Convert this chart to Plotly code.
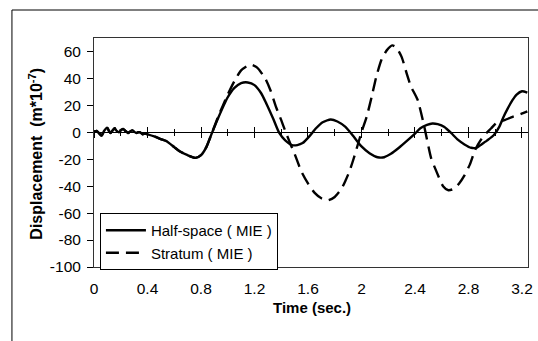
import plotly.graph_objects as go

# ---------------- data ----------------
time_half = [0.00, 0.02, 0.04, 0.057, 0.075, 0.098, 0.112, 0.125, 0.14, 0.155, 0.17, 0.187,
             0.20, 0.217, 0.235, 0.254, 0.27, 0.286, 0.30, 0.316, 0.33, 0.345, 0.364, 0.38, 0.40,
             0.45, 0.50, 0.54, 0.60, 0.64, 0.70, 0.76, 0.80, 0.84, 0.88, 0.93, 1.00, 1.05,
             1.10, 1.15, 1.20, 1.25, 1.29, 1.34, 1.385, 1.43, 1.48, 1.52, 1.56, 1.61, 1.66, 1.71,
             1.77, 1.82, 1.88, 1.94, 2.00, 2.06, 2.12, 2.17, 2.22, 2.28, 2.35, 2.40, 2.44, 2.49,
             2.53, 2.57, 2.62, 2.67, 2.72, 2.77, 2.82, 2.86, 2.89, 2.94, 2.99, 3.03, 3.06,
             3.09, 3.13, 3.16, 3.20, 3.24]
disp_half = [0.5, 1, -1, -2.5, 1, 3.5, 1, -0.5, 1.5, 3, 1, 0,
             1.5, 2.5, 1, -0.5, 0.5, 1.5, 0.5, -0.5, 0, 0, -1.5, -1, -1.5,
             -3, -5, -6.5, -11, -14, -17, -19, -17, -11, -1, 11, 26, 33,
             36.5, 37, 35, 29, 21, 10, -0.5, -6, -9.5, -9.5, -8, -3, 3, 7.5,
             9.5, 8, 4, -3, -10.5, -15.5, -18.5, -18.5, -16, -11.5, -5.5, -1, 3, 5.5,
             6.5, 6, 4, -0.5, -5.5, -9, -11.5, -11.5, -9.5, -6, -2, 4, 11,
             17, 24, 28, 30.5, 29.5]

time_stratum = [0.00, 0.02, 0.04, 0.057, 0.075, 0.098, 0.112, 0.125, 0.14, 0.155, 0.17, 0.187,
                0.20, 0.217, 0.235, 0.254, 0.27, 0.286, 0.30, 0.316, 0.33, 0.345, 0.364, 0.38, 0.40,
                0.45, 0.50, 0.54, 0.60, 0.64, 0.70, 0.76, 0.80, 0.84, 0.88, 0.93, 1.00, 1.05,
                1.10, 1.15, 1.18, 1.22, 1.28, 1.32, 1.36, 1.40, 1.43, 1.47, 1.50, 1.55, 1.60, 1.65,
                1.70, 1.75, 1.80, 1.85, 1.88, 1.91, 1.94, 1.97, 2.00, 2.04, 2.08, 2.11, 2.15, 2.19,
                2.23, 2.26, 2.30, 2.34, 2.37, 2.42, 2.47, 2.52, 2.56, 2.61, 2.65, 2.69, 2.73,
                2.77, 2.81, 2.85, 2.89, 2.93, 2.97, 3.01, 3.07, 3.13, 3.19, 3.24]
disp_stratum = [0.5, 1, -1, -2.5, 1, 3.5, 1, -0.5, 1.5, 3, 1, 0,
                1.5, 2.5, 1, -0.5, 0.5, 1.5, 0.5, -0.5, 0, 0, -1.5, -1, -1.5,
                -3, -5, -6.5, -11, -14, -17, -19, -17, -11, -1, 12, 28, 38,
                46, 49.5, 50, 48, 40, 31, 19, 9, 1, -9, -16, -29, -38, -45,
                -49, -50.5, -48, -42, -36, -29, -20, -10, 0, 12, 28, 41, 54, 61,
                64.5, 63, 56, 43, 34, 24, 4, -19, -29, -40, -43, -42, -38,
                -32, -24, -13, -6, -1, 3, 7, 9, 11.5, 13.5, 15.5]

x_tick_vals = [0, 0.4, 0.8, 1.2, 1.6, 2.0, 2.4, 2.8, 3.2]
x_tick_text = ["0", "0.4", "0.8", "1.2", "1.6", "2", "2.4", "2.8", "3.2"]
y_tick_vals = [-100, -80, -60, -40, -20, 0, 20, 40, 60]
y_tick_text = ["-100", "-80", "-60", "-40", "-20", "0", "20", "40", "60"]
series_names = ["Half-space ( MIE )", "Stratum ( MIE )"]

# ---------------- figure ----------------
FONT = "Liberation Sans, Arial, sans-serif"
W, H = 538, 341
ML, MR, MT, MB = 94, 5, 38, 74
PW, PH = W - ML - MR, H - MT - MB


def px_x(px):
    return (px - ML) / PW


def px_y(py):
    return (H - MB - py) / PH


fig = go.Figure()
fig.add_trace(go.Scatter(x=time_half, y=disp_half, mode="lines", name=series_names[0],
                         line=dict(color="black", width=2.4, shape="spline", smoothing=0.6)))
fig.add_trace(go.Scatter(x=time_stratum, y=disp_stratum, mode="lines", name=series_names[1],
                         line=dict(color="black", width=2.4, dash="13px,7px",
                                   shape="spline", smoothing=0.6)))
# helper traces so that the crossing axes at y=0 are drawn
for ax in ["x2", "x3"]:
    fig.add_trace(go.Scatter(x=[None], y=[None], xaxis=ax, showlegend=False, hoverinfo="skip"))

y_min, y_max = -100, 70
x_min, x_max = 0, 3.245
zero_pos = (0 - y_min) / (y_max - y_min)

common_cross = dict(range=[x_min, x_max], matches="x", overlaying="x", anchor="free",
                    position=zero_pos, showline=True, linecolor="black", linewidth=1,
                    showticklabels=False, showgrid=False, zeroline=False,
                    tickmode="linear", tick0=0, dtick=0.4, ticklen=5, tickcolor="black",
                    tickwidth=1,
                    minor=dict(ticks="", dtick=0.2, tick0=0, ticklen=3, tickcolor="black",
                               showgrid=False))

fig.update_layout(
    width=W, height=H,
    margin=dict(l=ML, r=MR, t=MT, b=MB, pad=0),
    paper_bgcolor="white", plot_bgcolor="white",
    font=dict(family=FONT, size=15, color="black"),
    showlegend=True,
    legend=dict(x=px_x(100), y=px_y(213), xanchor="left", yanchor="top",
                bgcolor="white", bordercolor="black", borderwidth=1,
                font=dict(family=FONT, size=15, color="black"),
                tracegroupgap=0, itemwidth=40),
    xaxis=dict(range=[x_min, x_max], tickmode="array", tickvals=x_tick_vals,
               ticktext=x_tick_text, ticks="", showline=True, linecolor="#333",
               linewidth=1, mirror=True, showgrid=False, zeroline=False,
               ticklabelstandoff=7, tickfont=dict(size=15.5)),
    xaxis2=dict(ticks="outside", **{**common_cross,
                                     "minor": dict(common_cross["minor"], ticks="outside")}),
    xaxis3=dict(ticks="inside", **{**common_cross,
                                    "minor": dict(common_cross["minor"], ticks="inside")}),
    yaxis=dict(range=[y_min, y_max], tickmode="array", tickvals=y_tick_vals,
               ticktext=y_tick_text,
               ticks="outside", ticklen=6, tickcolor="black", showline=True,
               linecolor="#333", linewidth=1, mirror=True, showgrid=False,
               zeroline=False, ticklabelstandoff=3, tickfont=dict(size=15.5)),
    shapes=[dict(type="rect", xref="paper", yref="paper",
                 x0=px_x(11), y0=px_y(400), x1=px_x(600), y1=px_y(10),
                 line=dict(color="black", width=1), fillcolor="rgba(0,0,0,0)", layer="below")],
    annotations=[
        dict(text="<b>Displacement  (m*10<sup>-7</sup>)</b>", xref="paper", yref="paper",
             x=px_x(35), y=px_y(154), xanchor="center", yanchor="middle", textangle=-90,
             showarrow=False, font=dict(family=FONT, size=16, color="black")),
        dict(text="<b>Time (sec.)</b>", xref="paper", yref="paper",
             x=px_x(315), y=px_y(307), xanchor="center", yanchor="middle",
             showarrow=False, font=dict(family=FONT, size=15, color="black")),
    ],
)

fig.write_html("out.html", config={"displayModeBar": False},
               post_script="document.body.style.margin='0';")
